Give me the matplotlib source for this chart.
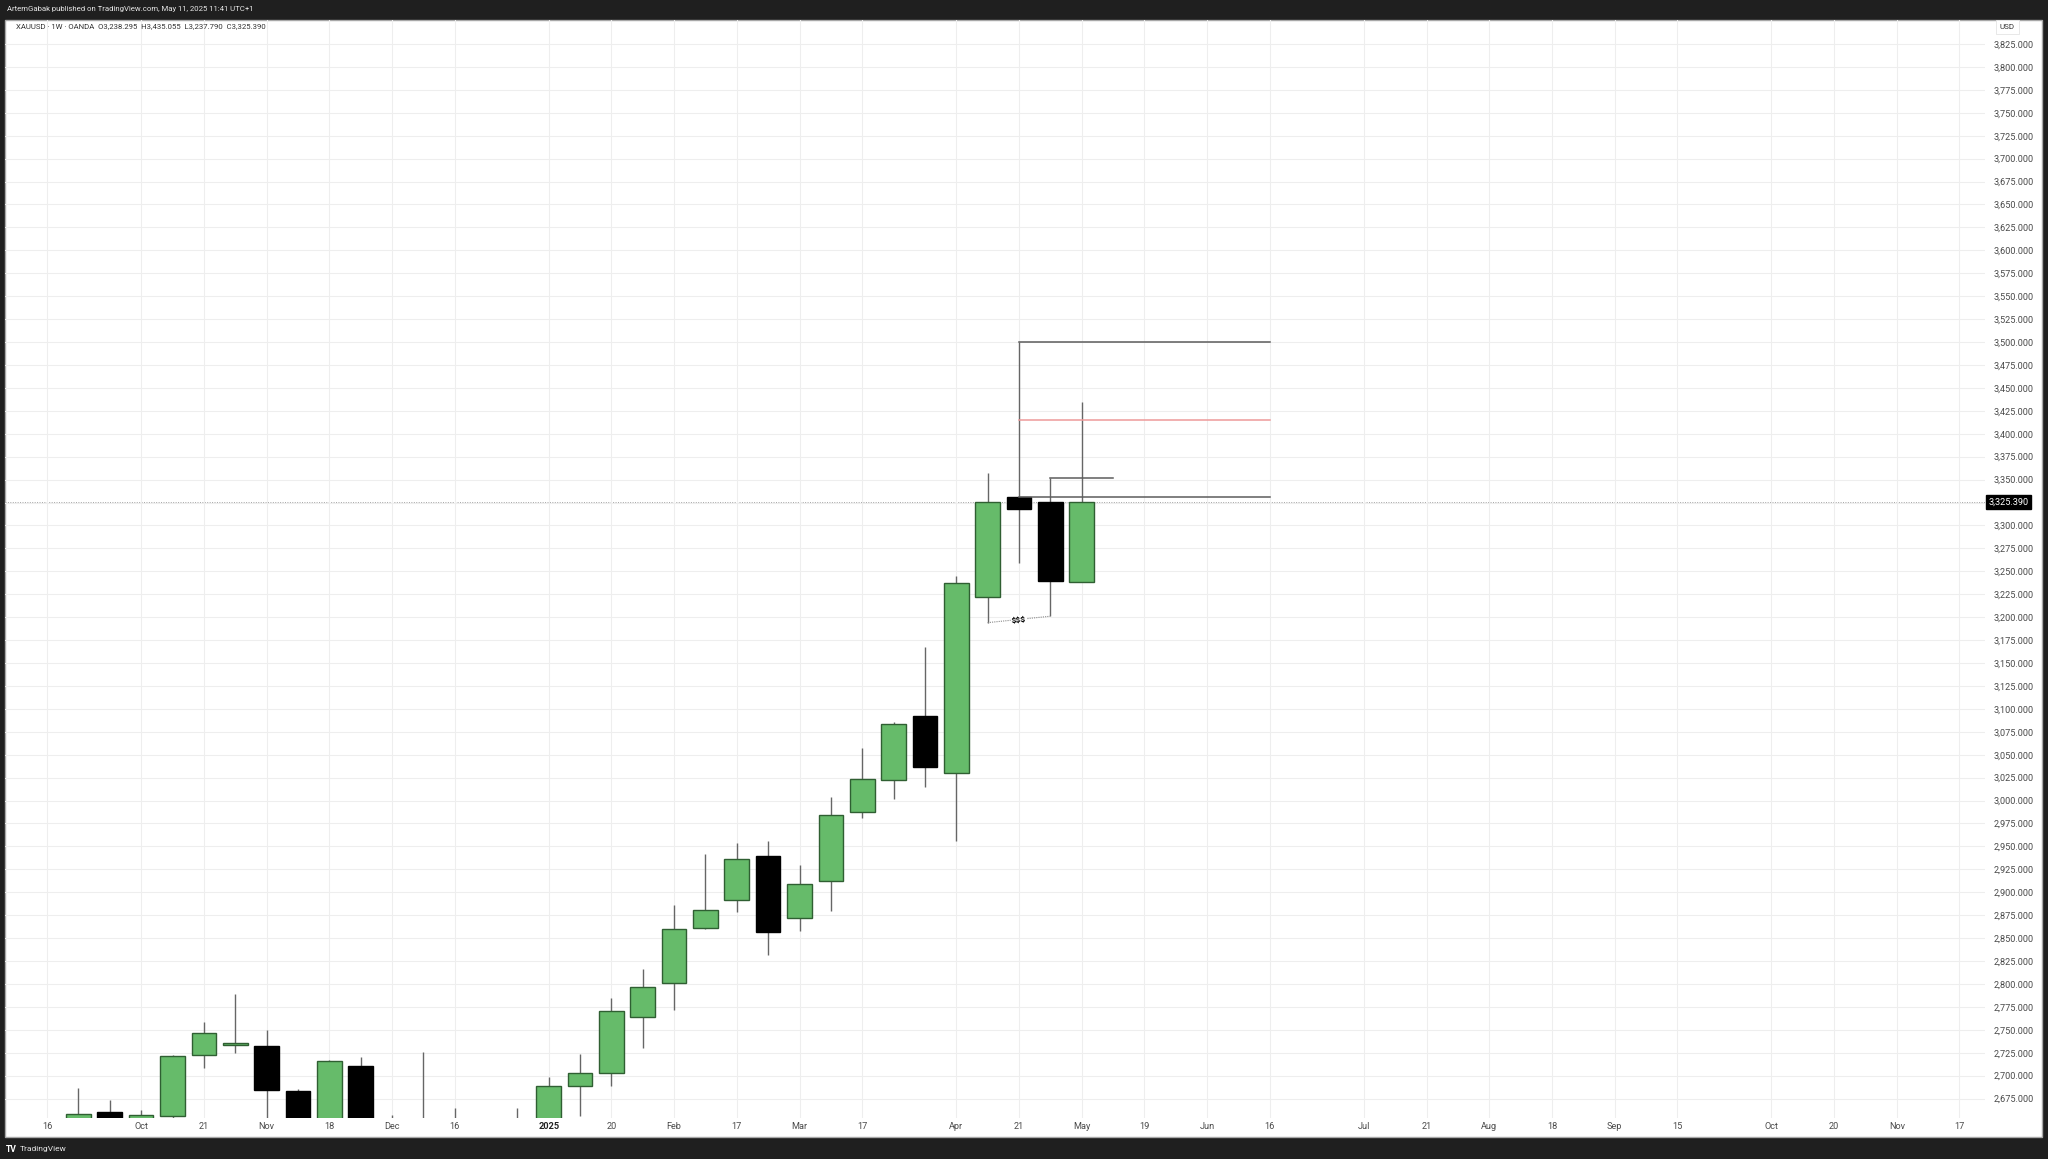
import matplotlib.pyplot as plt
import matplotlib.dates as mdates
from matplotlib.patches import Rectangle
import numpy as np
import pandas as pd

# weekly XAUUSD candles (OANDA)
weeks = ['2024-09-16', '2024-09-23', '2024-09-30', '2024-10-07', '2024-10-14',
         '2024-10-21', '2024-10-28', '2024-11-04', '2024-11-11', '2024-11-18',
         '2024-11-25', '2024-12-02', '2024-12-09', '2024-12-16', '2024-12-23',
         '2024-12-30', '2025-01-06', '2025-01-13', '2025-01-20', '2025-01-27',
         '2025-02-03', '2025-02-10', '2025-02-17', '2025-02-24', '2025-03-03',
         '2025-03-10', '2025-03-17', '2025-03-24', '2025-03-31', '2025-04-07',
         '2025-04-14', '2025-04-21', '2025-04-28', '2025-05-05']
opens = [2578, 2622, 2660, 2653, 2656, 2722, 2733, 2732, 2683, 2563,
         2711, 2643, 2633, 2648, 2622, 2621, 2640, 2689, 2703, 2764,
         2801, 2861, 2892, 2939, 2872, 2912, 2987, 3022, 3092, 3030,
         3222, 3331, 3326, 3238.295]
highs = [2625, 2686, 2673, 2662, 2722, 2758, 2789, 2750, 2685, 2717,
         2720, 2657, 2726, 2665, 2639, 2665, 2698, 2724, 2785, 2816,
         2886, 2942, 2954, 2956, 2930, 3004, 3057, 3086, 3167, 3245,
         3357, 3500, 3352, 3435.055]
lows = [2547, 2614, 2625, 2604, 2640, 2708, 2725, 2643, 2536, 2560,
        2605, 2613, 2632, 2583, 2603, 2596, 2616, 2656, 2689, 2730,
        2772, 2860, 2878, 2832, 2858, 2880, 2981, 3002, 3015, 2956,
        3194, 3259, 3201, 3237.790]
closes = [2621, 2658, 2653, 2657, 2721, 2746, 2736, 2684, 2563, 2716,
          2643, 2633, 2648, 2622, 2621, 2640, 2689, 2703, 2770, 2797,
          2860, 2881, 2936, 2857, 2909, 2984, 3023, 3084, 3037, 3237,
          3326, 3318, 3239, 3325.390]

tick_dates = ['2024-09-16', '2024-10-07', '2024-10-21', '2024-11-04', '2024-11-18',
              '2024-12-02', '2024-12-16', '2025-01-06', '2025-01-20', '2025-02-03',
              '2025-02-17', '2025-03-03', '2025-03-17', '2025-04-07', '2025-04-21',
              '2025-05-05', '2025-05-19', '2025-06-02', '2025-06-16', '2025-07-07',
              '2025-07-21', '2025-08-04', '2025-08-18', '2025-09-01', '2025-09-15',
              '2025-10-06', '2025-10-20', '2025-11-03', '2025-11-17']
tick_labels = ['16', 'Oct', '21', 'Nov', '18', 'Dec', '16', '2025', '20', 'Feb',
               '17', 'Mar', '17', 'Apr', '21', 'May', '19', 'Jun', '16', 'Jul',
               '21', 'Aug', '18', 'Sep', '15', 'Oct', '20', 'Nov', '17']

price_ticks = list(range(2675, 3826, 25))
last_price = 3325.390

# drawn levels
level_top = 3500
level_red = 3415
level_open = 3331
level_wick = 3352

FONT = 'Roboto'
plt.rcParams['font.family'] = [FONT, 'DejaVu Sans']

x = mdates.date2num(pd.to_datetime(weeks))
xt = mdates.date2num(pd.to_datetime(tick_dates))
d = lambda s: mdates.date2num(pd.Timestamp(s))

fig = plt.figure(figsize=(20.48, 11.59), dpi=100, facecolor='#1f1f1f')
fig.patches.append(Rectangle((5 / 2048, 1 - 1137 / 1159), 2037 / 2048, 1117 / 1159,
                             transform=fig.transFigure, facecolor='white',
                             edgecolor='#a8a8a8', lw=1, zorder=-10))

ax = fig.add_axes([5 / 2048, 1 - 1118 / 1159, 1980 / 2048, 1098 / 1159])
ax.set_zorder(2)
ax.set_facecolor('none')
for s in ax.spines.values():
    s.set_visible(False)

x0 = d('2024-09-16')
ax.set_xlim(x0 - 9.4, x0 + 432.7)
ax.set_ylim(2653.8, 3851.2)

ax.set_yticks(price_ticks)
# the tick under the last-price tag is hidden, as in the app
ax.set_yticklabels(['' if p == 3325 else f'{p:,.3f}' for p in price_ticks])
ax.yaxis.tick_right()
ax.tick_params(axis='y', length=0, pad=6, labelsize=6.6, labelcolor='#4a4a4a')
ax.set_xticks(xt)
ax.set_xticklabels(tick_labels)
ax.tick_params(axis='x', length=0, pad=3, labelsize=6.6, labelcolor='#4a4a4a')
for lbl in ax.get_xticklabels():
    if lbl.get_text() == '2025':
        lbl.set_fontweight('bold')
        lbl.set_color('#222222')
ax.grid(True, color='#eeeeee', lw=0.8, zorder=0)

# candles
up_fill, up_edge = '#66bb6a', '#2f5f32'
wick_c = '#666666'
for xi, o, h, l, c in zip(x, opens, highs, lows, closes):
    up = c >= o
    ax.vlines(xi, l, h, color=wick_c, lw=1.0, zorder=2)
    lo, hi = min(o, c), max(o, c)
    ax.bar(xi, max(hi - lo, 1.5), bottom=lo, width=5.5,
           color=up_fill if up else 'black',
           edgecolor=up_edge if up else 'black', lw=1.0, zorder=3)

# last price line and label
ax.axhline(last_price, color='#a0a0a0', lw=0.7, ls=(0, (1, 1.5)), zorder=1)
ax.text(1.0016, last_price, f'{last_price:,.3f}', transform=ax.get_yaxis_transform(),
        ha='left', va='center', fontsize=6.6, color='white', zorder=6,
        bbox=dict(boxstyle='square,pad=0.25', fc='black', ec='black'))

# drawings
line_c = '#5c5c5c'
ax.plot([d('2025-04-21'), d('2025-06-16')], [level_top, level_top], color=line_c, lw=1.1, zorder=4)
ax.plot([d('2025-04-21'), d('2025-06-16')], [level_open, level_open], color=line_c, lw=1.1, zorder=4)
ax.plot([d('2025-04-21'), d('2025-06-16')], [level_red, level_red], color='#ee9a9a', lw=1.1, zorder=4)
ax.plot([d('2025-04-28'), d('2025-05-12')], [level_wick, level_wick], color=line_c, lw=1.1, zorder=4)
ax.plot([d('2025-04-14'), d('2025-04-28')], [lows[30], lows[32]], color='#8a8a8a',
        lw=0.8, ls=(0, (1, 1)), zorder=4)
ax.text(d('2025-04-21'), (lows[30] + lows[32]) / 2, '$$$', ha='center', va='center',
        fontsize=6, fontweight='bold', color='black', rotation=6, zorder=5,
        bbox=dict(boxstyle='square,pad=0.1', fc='white', ec='none'))

# legend / header
ax.text(11 / 1980, 1 - 6 / 1098, 'XAUUSD \u00b7 1W \u00b7 OANDA  O3,238.295  H3,435.055  L3,237.790  C3,325.390',
        transform=ax.transAxes, ha='left', va='center', fontsize=5.6, color='#333333')
fig.text(7 / 2048, 1 - 9 / 1159, 'ArtemGabak published on TradingView.com, May 11, 2025 11:41 UTC+1',
         ha='left', va='center', fontsize=5.6, color='#e6e6e6')
fig.text(2000 / 2048, 1 - 27 / 1159, 'USD', ha='left', va='center', fontsize=5.8,
         color='#333333', bbox=dict(boxstyle='square,pad=0.5', fc='white', ec='#e4e4e4', lw=0.6))
fig.text(6 / 2048, 1 - 1149 / 1159, 'TV', ha='left', va='center', fontsize=6.2,
         fontweight='bold', color='white')
fig.text(20 / 2048, 1 - 1149 / 1159, 'TradingView', ha='left', va='center', fontsize=6.0,
         color='#e6e6e6')

fig.savefig('out.png', dpi=100, facecolor=fig.get_facecolor())
